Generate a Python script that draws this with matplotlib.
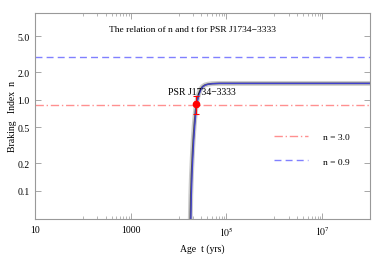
import numpy as np
import matplotlib
matplotlib.use("Agg")
from matplotlib import pyplot as plt
from matplotlib.ticker import FixedLocator, FixedFormatter, NullFormatter

plt.rcParams['font.family'] = ['Liberation Serif', 'DejaVu Serif']
plt.rcParams['mathtext.fontset'] = 'stix'

# curve n(t)
age_yrs = [1.70e4, 1.76e4, 1.80e4, 1.86e4, 1.93e4, 2.02e4, 2.12e4, 2.25e4, 2.40e4,
           2.60e4, 2.85e4, 3.15e4, 3.55e4, 4.1e4, 5.0e4, 7.0e4, 1.5e5, 1.0e6, 1.0e8]
braking_n = [0.02, 0.05, 0.09, 0.15, 0.23, 0.36, 0.52, 0.74, 0.95,
             1.14, 1.29, 1.39, 1.45, 1.48, 1.50, 1.51, 1.51, 1.51, 1.51]

# horizontal reference lines (as drawn)
line_red = 0.87
line_blue = 2.95
legend_labels = ['n = 3.0', 'n = 0.9']

# the pulsar
psr_age = 2.3e4
psr_n = 0.9
psr_n_err = 0.2

x_ticks = [10, 1e3, 1e5, 1e7]
x_tick_labels = ['10', '1000', r'$10^5$', r'$10^7$']
y_ticks = [0.1, 0.2, 0.5, 1.0, 2.0, 5.0]
y_tick_labels = ['0.1', '0.2', '0.5', '1.0', '2.0', '5.0']

fig = plt.figure(figsize=(3.74, 2.55), dpi=100)
ax = fig.add_axes([35 / 374, 1 - 220 / 255, 335 / 374, 206 / 255])
ax.set_xscale('log')
ax.set_yscale('log')
ax.set_xlim(10, 1e8)
ax.set_ylim(0.049, 8.95)

ax.axhline(line_red, color='#ff9090', lw=1.0, ls=(0, (6, 2, 1, 2)), label=legend_labels[0])
ax.axhline(line_blue, color='#8080ff', lw=1.0, ls=(0, (5, 3)), label=legend_labels[1])

ax.plot(age_yrs, braking_n, color='#cccccc', lw=3.5, solid_capstyle='butt')
ax.plot(age_yrs, braking_n, color='#555555', lw=1.2)
ax.plot([a * 1.03 for a in age_yrs], braking_n, color='#4040d0', lw=0.9)

ax.errorbar([psr_age], [psr_n], yerr=[psr_n_err], fmt='o', color='red',
            ms=4.5, elinewidth=0.8, capsize=2, capthick=0.8)
ax.text(3.1e4, 1.22, 'PSR J1734\u22123333', fontsize=7, ha='center', va='center')
ax.text(2.0e4, 6.0, 'The relation of n and t for PSR J1734\u22123333', fontsize=6.8,
        ha='center', va='center')

ax.xaxis.set_major_locator(FixedLocator(x_ticks))
ax.xaxis.set_major_formatter(FixedFormatter(x_tick_labels))
ax.xaxis.set_minor_locator(FixedLocator(
    [m * 10 ** e for e in (2, 4, 6) for m in range(1, 10)]))
ax.xaxis.set_minor_formatter(NullFormatter())
ax.yaxis.set_major_locator(FixedLocator(y_ticks))
ax.yaxis.set_major_formatter(FixedFormatter(y_tick_labels))
ax.yaxis.set_minor_formatter(NullFormatter())
ax.yaxis.set_minor_locator(FixedLocator([]))

ax.tick_params(which='both', direction='in', top=True, right=True, color='#999999',
               labelsize=7, pad=4)
ax.tick_params(which='major', length=4, width=0.6)
ax.tick_params(which='minor', length=2, width=0.5)
for s in ax.spines.values():
    s.set_color('#999999')
    s.set_linewidth(0.8)

ax.set_xlabel('Age  t (yrs)', fontsize=7, labelpad=4)
ax.set_ylabel('Braking   Index  n', fontsize=7, labelpad=0)

ax.legend(loc='center right', bbox_to_anchor=(0.965, 0.34), frameon=False, fontsize=6.8,
          handlelength=3.6, handletextpad=1.6, labelspacing=1.7)

fig.savefig('out.png', dpi=100)
